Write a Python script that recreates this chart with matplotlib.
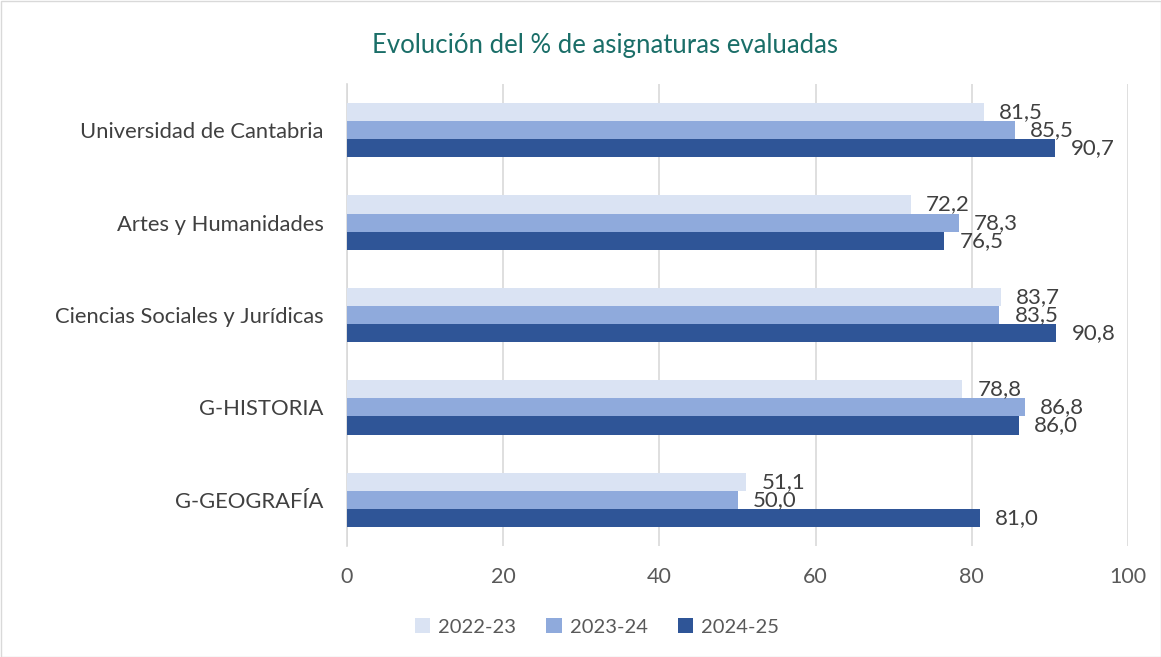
import matplotlib
matplotlib.use("Agg")
import matplotlib.pyplot as plt
from matplotlib.patches import Rectangle, Patch
import numpy as np

categories = ["Universidad de Cantabria", "Artes y Humanidades", "Ciencias Sociales y Jurídicas",
              "G-HISTORIA", "G-GEOGRAFÍA"]
series_names = ["2022-23", "2023-24", "2024-25"]
v2022 = [81.5, 72.2, 83.7, 78.8, 51.1]
v2023 = [85.5, 78.3, 83.5, 86.8, 50.0]
v2024 = [90.7, 76.5, 90.8, 86.0, 81.0]
xticks = [0, 20, 40, 60, 80, 100]

colors = ["#DAE3F3", "#8FAADC", "#2F5597"]
text_color = "#404040"
tick_color = "#595959"

plt.rcParams['font.family'] = ['Lato', 'DejaVu Sans']

fig = plt.figure(figsize=(11.61, 6.57), dpi=100)
ax = fig.add_axes([347/1161, 1-546/657, (1128-347)/1161, (546-84)/657])

bh = 0.196
y = np.arange(len(categories))
for i, (vals, c, name) in enumerate(zip([v2022, v2023, v2024], colors, series_names)):
    pos = y + (i - 1) * bh
    ax.barh(pos, vals, height=bh, color=c, label=name, zorder=3)
    for p, v in zip(pos, vals):
        ax.annotate(f"{v:.1f}".replace('.', ','), xy=(v, p), xytext=(11, 0),
                    textcoords='offset points', va='center', ha='left',
                    fontsize=16, color=text_color, zorder=4)

ax.set_xlim(0, 100)
ax.set_ylim(len(categories) - 0.5, -0.5)
ax.set_xticks(xticks)
ax.set_xticklabels([str(t) for t in xticks], fontsize=15.5, color=tick_color)
ax.set_yticks(y)
ax.set_yticklabels(categories, fontsize=15.8, color=text_color)
ax.tick_params(axis='both', length=0)
ax.tick_params(axis='x', pad=15)
ax.tick_params(axis='y', pad=17)
ax.grid(axis='x', color='#D9D9D9', linewidth=1.2, zorder=0)
for s in ['top', 'right', 'bottom']:
    ax.spines[s].set_visible(False)
ax.spines['left'].set_color('#D9D9D9')
ax.spines['left'].set_linewidth(1.2)

fig.text(605/1161, 1-45/657, "Evolución del % de asignaturas evaluadas", ha='center', va='center',
         fontsize=18.5, color='#1A6E68')

handles = [Patch(facecolor=c, label=n) for c, n in zip(colors, series_names)]
fig.legend(handles=handles, loc='center', bbox_to_anchor=(597/1161, 1-627/657), ncol=3,
           frameon=False, fontsize=14.5, labelcolor=tick_color, handlelength=0.75, handleheight=0.75,
           handletextpad=0.4, columnspacing=1.5)

fig.add_artist(Rectangle((0.5/1161, 0.5/657), 1-1/1161, 1-1/657, transform=fig.transFigure,
                         fill=False, edgecolor='#D9D9D9', linewidth=1))

fig.savefig("out.png", dpi=100)
